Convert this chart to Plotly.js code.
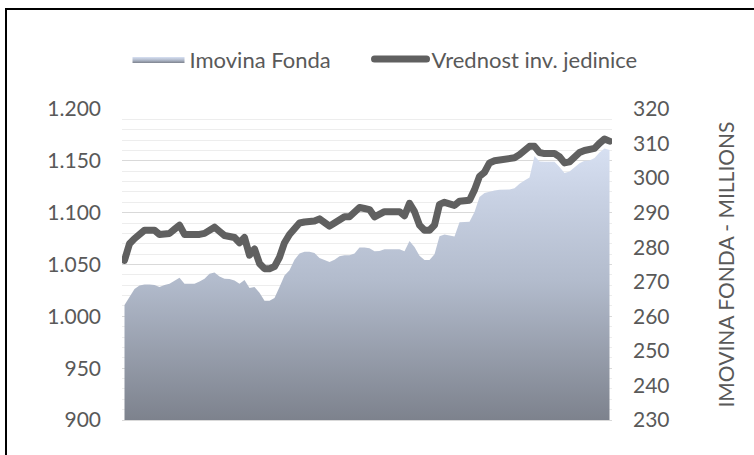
<!DOCTYPE html>
<html><head><meta charset="utf-8">
<script src="https://cdn.plot.ly/plotly-3.0.1.min.js"></script>
<style>
html,body{margin:0;padding:0;background:#fff;overflow:hidden;}
#wrap{position:relative;width:754px;height:455px;overflow:hidden;}
#chart{position:absolute;left:0;top:0;width:754px;height:455px;}
#frame{position:absolute;left:5px;top:8px;width:900px;height:600px;border-left:2px solid #000;border-top:2px solid #000;pointer-events:none;}
.scatterlayer .js-line{stroke-linejoin:round !important;stroke-linecap:round !important;}
.legend .js-line{stroke-linecap:round !important;}
</style></head>
<body><div id="wrap"><div id="chart"></div><div id="frame"></div></div>
<script>
// Imovina Fonda (millions, right axis)
const fundAssets = [263.3,265.8,267.9,268.9,269.2,269.2,269.1,268.5,269.1,269.4,
 270.4,271.2,269.4,269.4,269.4,270.1,270.9,272.3,272.7,271.5,
 270.9,270.8,270.4,269.4,270.5,268.2,268.5,266.8,264.5,264.5,
 265.3,268.5,271.8,273.3,276.4,278.2,278.7,278.7,278.3,276.9,
 276.2,275.7,276.4,277.4,277.7,277.7,278.2,279.9,279.9,279.7,
 278.8,278.9,279.4,279.4,279.4,279.4,278.8,281.8,280.1,277.5,
 276.3,276.3,278.0,283.2,283.7,283.5,283.1,287.2,287.4,287.4,
 290.2,294.5,295.7,296.1,296.4,296.6,296.7,296.7,297.1,298.4,
 299.3,300.2,306.4,304.8,304.7,304.7,304.7,303.2,301.5,301.9,
 303.0,304.3,305.0,305.1,305.8,307.4,308.6,308.1];

// Vrednost inv. jedinice (left axis)
const unitValue = [1054,1070,1075,1079,1083,1083,1083,1079,1080,1080,
 1084,1088,1079,1079,1078,1079,1080,1084,1086,1082,
 1078,1077,1076,1071,1076,1059,1065,1051,1046,1046,
 1048,1057,1071,1079,1085,1090,1091,1091,1092,1094,
 1091,1087,1090,1094,1096,1096,1101,1105,1104,1103,
 1096,1098,1101,1101,1101,1101,1097,1109,1101,1088,
 1083,1083,1088,1108,1110,1109,1107,1111,1112,1112,
 1122,1135,1139,1148,1150,1151,1152,1152,1153,1156,
 1160,1164,1164,1158,1157,1157,1157,1154,1148,1149,
 1154,1158,1160,1161,1162,1167,1171,1169];

const periods = unitValue.map((_, i) => i);

const seriesNames = ['Imovina Fonda', 'Vrednost inv. jedinice'];
const rightAxisTitle = 'IMOVINA FONDA - MILLIONS';
const legendGap = '\u00A0\u00A0\u00A0\u00A0\u00A0\u00A0';

const traces = [
  {
    x: periods, y: fundAssets, yaxis: 'y', name: seriesNames[0] + legendGap,
    type: 'scatter', mode: 'lines', fill: 'tozeroy',
    line: {width: 0, color: '#b4bdcd'},
    fillgradient: {type: 'vertical', start: 230, stop: 310,
      colorscale: [[0, '#7d828d'], [0.5, '#b2bbcc'], [0.8, '#c8d1e3'], [1, '#d8e1f3']]},
    hoverinfo: 'skip'
  },
  {
    x: periods, y: unitValue, yaxis: 'y2', name: seriesNames[1],
    type: 'scatter', mode: 'lines',
    line: {width: 7, color: '#606060'},
    hoverinfo: 'skip'
  }
];

const layout = {
  width: 754, height: 455,
  margin: {l: 122, r: 142, t: 109, b: 35, pad: 0, autoexpand: false},
  paper_bgcolor: '#ffffff', plot_bgcolor: 'rgba(0,0,0,0)',
  separators: ',.',
  font: {family: 'Lato, "Open Sans", sans-serif', size: 21, color: '#595959'},
  showlegend: true,
  legend: {orientation: 'h', x: -0.001, xanchor: 'left',
    y: 1.16, yanchor: 'middle', itemwidth: 52,
    borderwidth: 6, bordercolor: 'rgba(0,0,0,0)',
    font: {size: 22, color: '#595959'}, traceorder: 'normal',
    bgcolor: 'rgba(0,0,0,0)'},
  xaxis: {type: 'linear', range: [-0.5, periods.length - 0.5], showgrid: false, zeroline: false,
    showticklabels: false, ticks: '', showline: true, linecolor: '#d9d9d9', linewidth: 1},
  yaxis: {side: 'right', range: [230, 320], dtick: 10, tick0: 230, showgrid: false,
    zeroline: false, ticks: '', ticklabelstandoff: 20,
    title: {text: rightAxisTitle, font: {size: 21, color: '#595959'}, standoff: 50}},
  yaxis2: {overlaying: 'y', side: 'left', range: [900, 1200], dtick: 50, tick0: 900,
    tickformat: ',d', showgrid: true, gridcolor: '#d9d9d9', gridwidth: 1.2,
    zeroline: false, ticks: '', ticklabelstandoff: 20,
    minor: {dtick: 10, showgrid: true, gridcolor: '#ededed', gridwidth: 1}}
};

Plotly.newPlot('chart', traces, layout, {displayModeBar: false, staticPlot: true});
</script></body></html>
